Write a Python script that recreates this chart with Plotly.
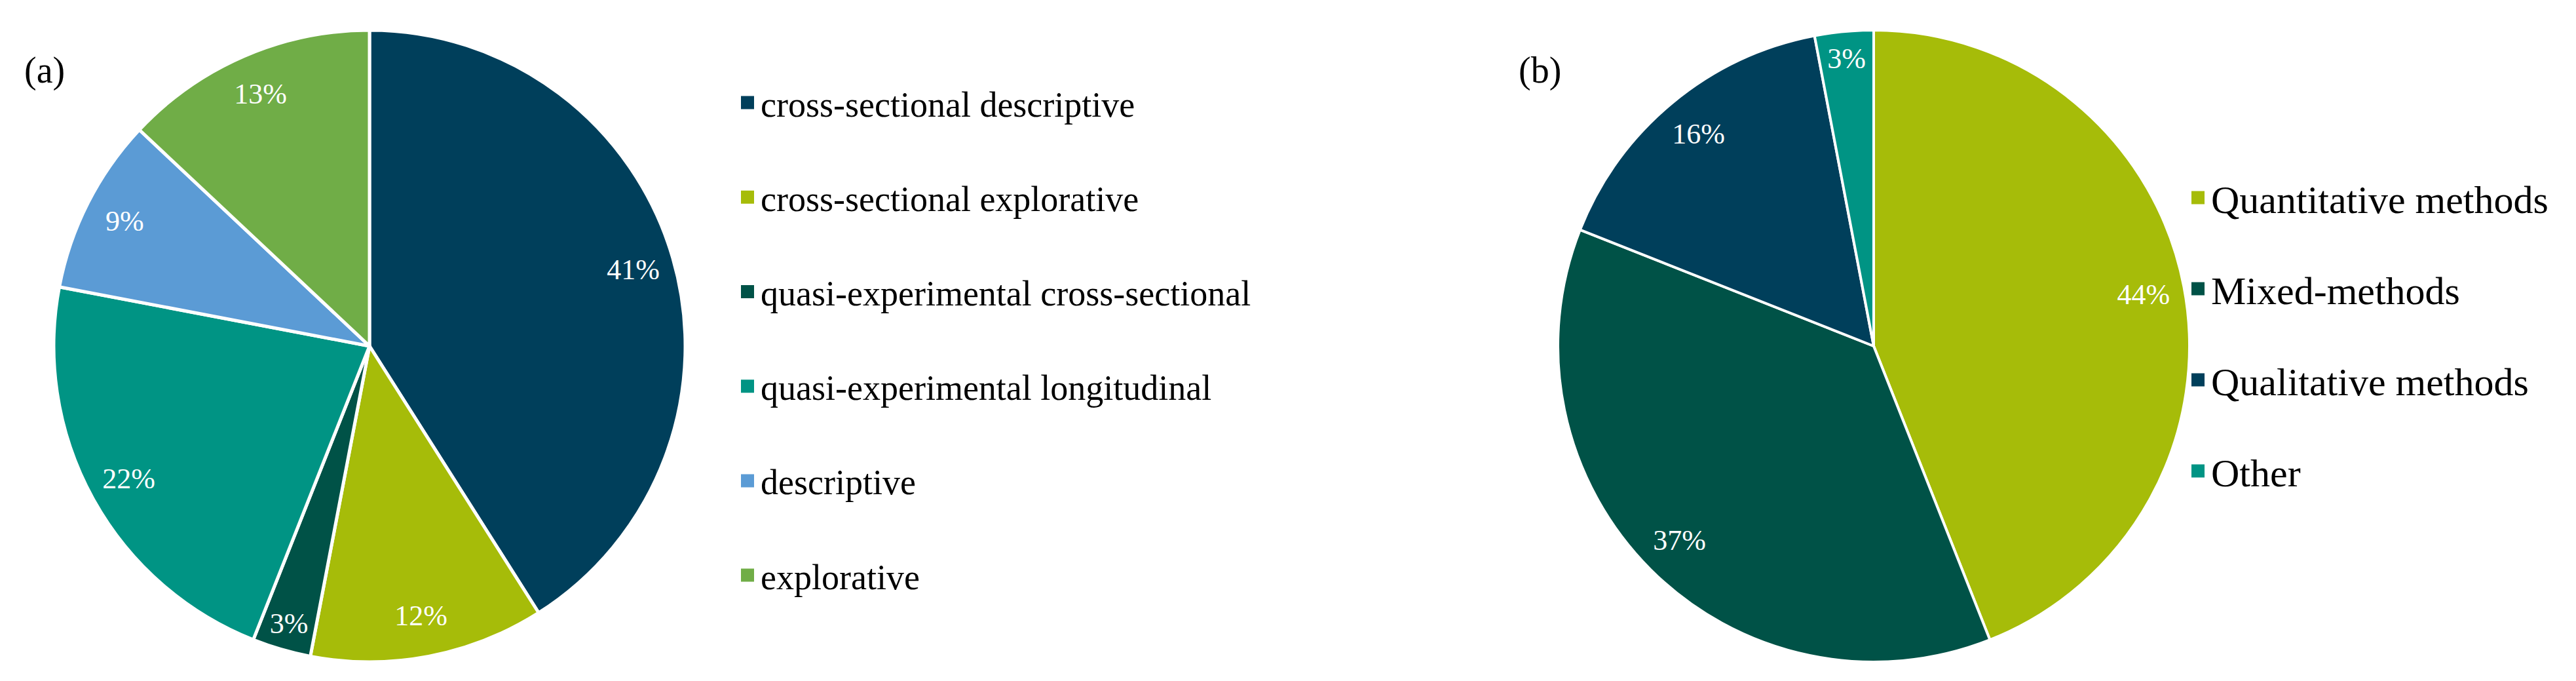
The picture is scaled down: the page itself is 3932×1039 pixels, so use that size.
"""
Study design / methods pie charts
"""
import plotly.graph_objects as go

W, H = 3932, 1039
FONT = "Liberation Serif"

# (a) study design
design_labels = [
    "cross-sectional descriptive",
    "cross-sectional explorative",
    "quasi-experimental cross-sectional",
    "quasi-experimental longitudinal",
    "descriptive",
    "explorative",
]
design_values = [41, 12, 3, 22, 9, 13]
design_colors = ["#003F5B", "#A6BC09", "#005247", "#009484", "#5B9BD5", "#70AD47"]

# (b) methods
method_labels = ["Quantitative methods", "Mixed-methods", "Qualitative methods", "Other"]
method_values = [44, 37, 16, 3]
method_colors = ["#A6BC09", "#005247", "#003F5B", "#009484"]


def px_domain(cx, cy, r):
    return dict(x=[(cx - r) / W, (cx + r) / W],
                y=[(H - cy - r) / H, (H - cy + r) / H])


fig = go.Figure()


def add_pie(labels, values, colors, domain, line_w, legend):
    # coloured slices
    fig.add_trace(go.Pie(
        labels=labels, values=values, domain=domain,
        sort=False, direction="clockwise", rotation=0,
        marker=dict(colors=colors, line=dict(color="white", width=line_w)),
        textinfo="none", showlegend=False,
        hovertemplate="%{label}: %{percent}<extra></extra>",
    ))
    # percentage labels sitting in the outer ring
    fig.add_trace(go.Pie(
        labels=labels, values=values, domain=domain, hole=0.74,
        sort=False, direction="clockwise", rotation=0,
        marker=dict(colors=["rgba(0,0,0,0)"] * len(values), line=dict(width=0)),
        textinfo="percent", textposition="inside",
        insidetextorientation="horizontal",
        textfont=dict(family=FONT, size=44, color="white"),
        showlegend=False, hoverinfo="skip",
    ))
    # legend entries
    for lab, col in zip(labels, colors):
        fig.add_trace(go.Scatter(
            x=[None], y=[None], mode="markers", name=lab,
            marker=dict(symbol="square", size=16, color=col,
                        line=dict(color=col, width=4)),
            legendgroup=lab, legend=legend, hoverinfo="skip",
        ))


add_pie(design_labels, design_values, design_colors, px_domain(556, 520, 482), 5, "legend")
add_pie(method_labels, method_values, method_colors, px_domain(2852, 520, 482), 4, "legend2")

fig.update_layout(
    width=W, height=H,
    margin=dict(l=0, r=0, t=0, b=0),
    paper_bgcolor="white", plot_bgcolor="white",
    font=dict(family=FONT, color="black"),
    xaxis=dict(visible=False), yaxis=dict(visible=False),
    uniformtext=dict(minsize=44, mode="show"),
    legend=dict(
        x=1113 / W, y=1 - 107 / H, xanchor="left", yanchor="top",
        font=dict(family=FONT, size=54, color="black"),
        traceorder="grouped", tracegroupgap=71, itemwidth=30,
        bgcolor="rgba(0,0,0,0)",
    ),
    legend2=dict(
        x=3327 / W, y=1 - 248 / H, xanchor="left", yanchor="top",
        font=dict(family=FONT, size=60, color="black"),
        traceorder="grouped", tracegroupgap=58, itemwidth=30,
        bgcolor="rgba(0,0,0,0)",
    ),
    annotations=[
        dict(text="(a)", x=60 / W, y=1 - 100 / H, xref="paper", yref="paper",
             xanchor="center", yanchor="middle", showarrow=False,
             font=dict(family=FONT, size=56, color="black")),
        dict(text="(b)", x=2342 / W, y=1 - 100 / H, xref="paper", yref="paper",
             xanchor="center", yanchor="middle", showarrow=False,
             font=dict(family=FONT, size=56, color="black")),
    ],
)

fig.write_html("out.html")
